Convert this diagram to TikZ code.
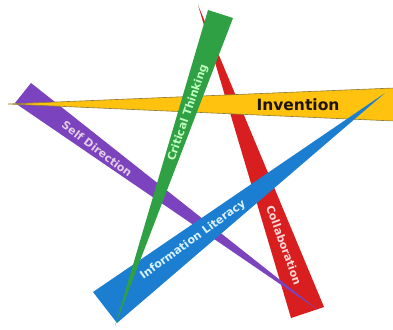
\documentclass[tikz,border=0pt]{standalone}
\usepackage{fontspec}
\setmainfont{DejaVu Sans}
\definecolor{cred}{HTML}{D81E1E}
\definecolor{cpur}{HTML}{7B44BE}
\definecolor{cyel}{HTML}{FFC20E}
\definecolor{yedge}{HTML}{8C7A3A}
\definecolor{cblu}{HTML}{1C7ED0}
\definecolor{cgrn}{HTML}{2FA043}
\begin{document}
\begin{tikzpicture}[x=1pt,y=-1pt,
  lbl/.style={font=\bfseries\fontsize{11}{13}\selectfont, inner sep=0pt}]
\useasboundingbox (0,0) rectangle (393,329);
% wedges, bottom to top
\fill[cred] (198,5) -- (324,307) -- (291,318) -- cycle;
\fill[cpur] (318,310) -- (31,83) -- (15,103) -- cycle;
\filldraw[fill=cyel, draw=yedge, line width=0.6pt] (8,104) -- (394,88) -- (394,121) -- cycle;
\fill[cblu] (385,93) -- (117,323) -- (93,292) -- cycle;
\fill[cgrn] (115,326) -- (208,10) -- (233,18) -- cycle;
% labels
\node[lbl, font=\bfseries\fontsize{15.5}{17}\selectfont, text=black!85!brown] (inv) at (298,105) {Invention};
\node[lbl, text=green!25!white, rotate=71] (ct) at (188,113) {Critical Thinking};
\node[lbl, text=violet!20!white, rotate=-37] (sd) at (97,149) {Self Direction};
\node[lbl, text=cyan!15!white, rotate=36] (il) at (193,240) {Information Literacy};
\node[lbl, text=red!15!white, rotate=-70] (co) at (284,245) {Collaboration};
\end{tikzpicture}
\end{document}
